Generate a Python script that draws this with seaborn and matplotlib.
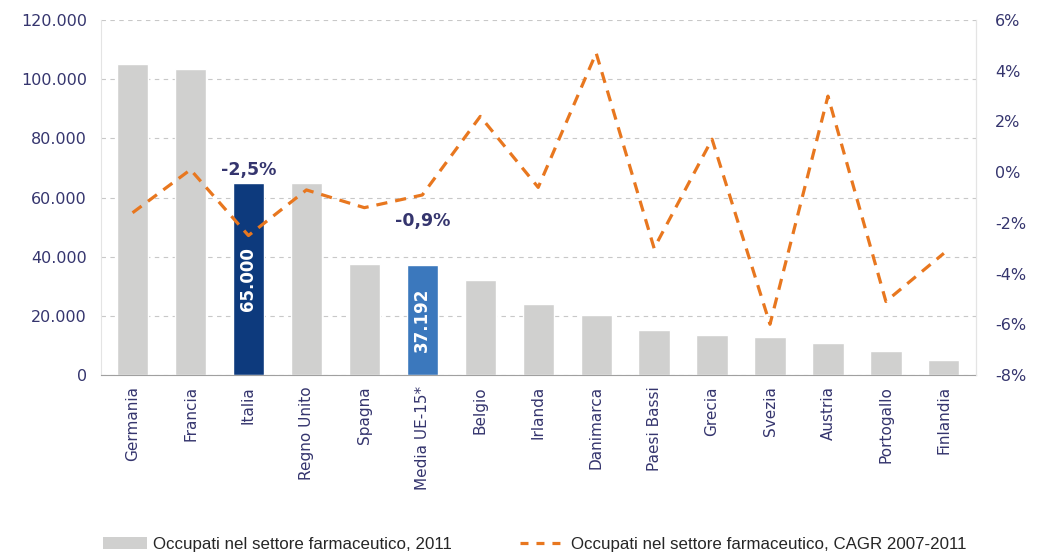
"""
Occupati nel settore farmaceutico 2011 (barre) e CAGR 2007-2011 (linea)
"""
import numpy as np
import pandas as pd
import matplotlib
matplotlib.use("Agg")
import matplotlib.pyplot as plt
from matplotlib.ticker import FuncFormatter, MultipleLocator
from matplotlib.patches import Patch
from matplotlib.lines import Line2D
import seaborn as sns

paesi = ["Germania", "Francia", "Italia", "Regno Unito", "Spagna", "Media UE-15*",
         "Belgio", "Irlanda", "Danimarca", "Paesi Bassi", "Grecia", "Svezia",
         "Austria", "Portogallo", "Finlandia"]
occupati = [105000, 103500, 65000, 65000, 37500, 37192, 32000, 24000, 20300,
            15200, 13500, 12800, 10800, 8100, 5100]
cagr = [-1.6, 0.1, -2.5, -0.7, -1.4, -0.9, 2.2, -0.6, 4.7, -3.0, 1.3, -6.0,
        3.0, -5.1, -3.2]

GRIGIO = "#d0d0cf"
BLU_SCURO = "#0d3a7d"
BLU_MEDIO = "#3b78bd"
ARANCIO = "#e8771f"
TESTO = "#35356e"

colori = {p: GRIGIO for p in paesi}
colori["Italia"] = BLU_SCURO
colori["Media UE-15*"] = BLU_MEDIO

df = pd.DataFrame({"paese": paesi, "occupati": occupati, "cagr": cagr})

sns.set_style("white")
plt.rcParams["font.family"] = ["DejaVu Sans"]

fig = plt.figure(figsize=(10.38, 5.58), dpi=100)
ax = fig.add_axes([0.097, 0.328, 0.843, 0.636])

sns.barplot(data=df, x="paese", y="occupati", hue="paese", palette=colori,
            width=0.54, legend=False, ax=ax, saturation=1)

ax.set_ylim(0, 120000)
ax.yaxis.set_major_locator(MultipleLocator(20000))
ax.yaxis.set_major_formatter(FuncFormatter(lambda v, p: f"{int(v):,}".replace(",", ".")))
ax.set_xlim(-0.55, len(paesi) - 0.45)
ax.set_xlabel("")
ax.set_ylabel("")
ax.grid(axis="y", color="#c8c8c8", linestyle=(0, (4, 4)), linewidth=0.8)
ax.set_axisbelow(True)
ax.spines["top"].set_visible(False)
ax.spines["left"].set_color("#e4e4e4")
ax.spines["right"].set_color("#e4e4e4")
ax.spines["bottom"].set_color("#a0a0a0")
ax.tick_params(axis="y", labelsize=11.5, colors=TESTO, length=0, pad=10)
ax.tick_params(axis="x", labelsize=11, colors=TESTO, length=0, pad=8)
ax.set_xticks(range(len(paesi)))
ax.set_xticklabels(paesi, rotation=90)

ax2 = ax.twinx()
sns.lineplot(x=np.arange(len(paesi)), y=cagr, ax=ax2, color=ARANCIO,
             linewidth=2.3, linestyle=(0, (3.5, 2.5)))
ax2.set_ylim(-8, 6)
ax2.yaxis.set_major_locator(MultipleLocator(2))
ax2.yaxis.set_major_formatter(FuncFormatter(lambda v, p: f"{int(round(v))}%"))
ax2.tick_params(axis="y", labelsize=11.5, colors=TESTO, length=0, pad=14)
for s in ["top", "left", "bottom"]:
    ax2.spines[s].set_visible(False)
ax2.spines["right"].set_color("#e4e4e4")

# etichette dentro le barre evidenziate
i_it = paesi.index("Italia")
i_md = paesi.index("Media UE-15*")
ax.text(i_it, occupati[i_it] * 0.5, "65.000", rotation=90, color="white",
        ha="center", va="center", fontsize=12, fontweight="bold")
ax.text(i_md, occupati[i_md] * 0.5, "37.192", rotation=90, color="white",
        ha="center", va="center", fontsize=12, fontweight="bold")

# etichette CAGR
ax2.annotate("-2,5%", (i_it, cagr[i_it]), xytext=(0, 47), textcoords="offset points",
             ha="center", va="center", color=TESTO, fontsize=12.5, fontweight="bold")
ax2.annotate("-0,9%", (i_md, cagr[i_md]), xytext=(0, -19), textcoords="offset points",
             ha="center", va="center", color=TESTO, fontsize=12.5, fontweight="bold")

handles = [Patch(facecolor=GRIGIO, edgecolor="none"),
           Line2D([0], [0], color=ARANCIO, linewidth=2.3, linestyle=(0, (2.5, 2.5)))]
labels = ["Occupati nel settore farmaceutico, 2011",
          "Occupati nel settore farmaceutico, CAGR 2007-2011"]
fig.legend(handles, labels, loc="center", bbox_to_anchor=(0.515, 0.025), ncol=2,
           frameon=False, handlelength=2.6, handletextpad=0.4, columnspacing=4.0,
           prop={"family": "Liberation Sans", "size": 12.2})

fig.savefig("out.png", dpi=100)
plt.close(fig)
